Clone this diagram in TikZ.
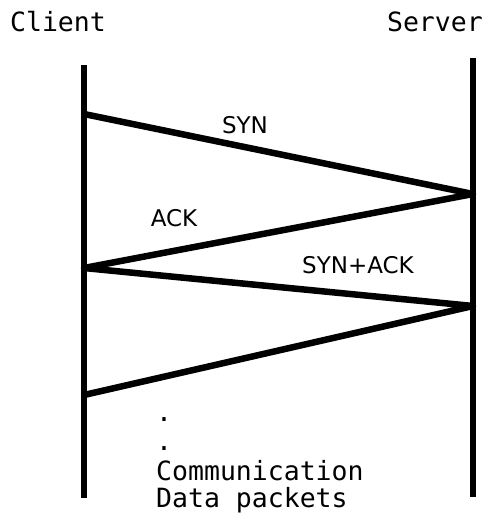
\documentclass[tikz,border=0pt]{standalone}
\usepackage{fontspec}
\newfontfamily\monofont{DejaVu Sans Mono}
\newfontfamily\labelfont{DejaVu Sans}
\begin{document}
\begin{tikzpicture}[x=1pt,y=-1pt,
  lifeline/.style={line width=6.5pt},
  msg/.style={line width=6.5pt,line join=round},
  head/.style={font=\monofont\fontsize{26.5}{30}\selectfont,inner sep=0pt},
  mlabel/.style={font=\labelfont\fontsize{23}{26}\selectfont,inner sep=0pt},
  note/.style={font=\monofont\fontsize{26.5}{30}\selectfont,inner sep=0pt,anchor=base west}]
\useasboundingbox (0,0) rectangle (485,514);
% lifelines
\coordinate (ctop) at (84,65);
\coordinate (cbot) at (84,498);
\coordinate (stop) at (473,58);
\coordinate (sbot) at (473,497);
\draw[lifeline] (ctop) -- (cbot);
\draw[lifeline] (stop) -- (sbot);
% message points
\coordinate (c1) at (84,114);
\coordinate (s1) at (473,194);
\coordinate (c2) at (84,268);
\coordinate (s2) at (473,306);
\coordinate (c3) at (84,395);
\draw[msg] (c1) -- (s1) -- (c2) -- (s2) -- (c3);
% headers
\node[head] (client) at (58,22) {Client};
\node[head,anchor=east] (server) at (483,22) {Server};
% labels
\node[mlabel] (syn) at (245,125) {SYN};
\node[mlabel] (ack) at (174,218) {ACK};
\node[mlabel] (synack) at (358,265) {SYN+ACK};
% notes
\node[note] (d1) at (156,421) {.};
\node[note] (d2) at (156,450) {.};
\node[note] (comm) at (156,480) {Communication};
\node[note] (data) at (156,507) {Data packets};
\end{tikzpicture}
\end{document}
